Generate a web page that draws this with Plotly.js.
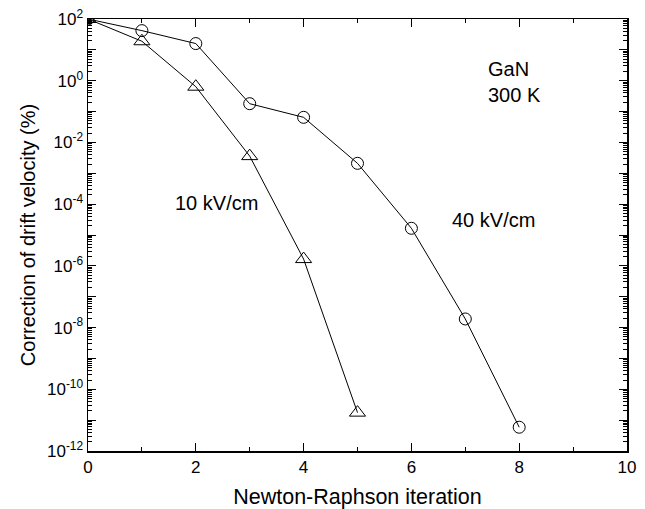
<!DOCTYPE html>
<html><head><meta charset="utf-8">
<script src="https://cdn.plot.ly/plotly-3.0.1.min.js"></script>
<style>body{margin:0;padding:0;background:#fff}#chart{width:645px;height:509px}</style>
</head><body><div id="chart"></div>
<script>
const iterCircle = [0, 1, 2, 3, 4, 5, 6, 7, 8];
const corr40 = [100, 42, 16, 0.18, 0.065, 0.0021, 1.65e-5, 1.9e-8, 5.9e-12];
const iterTri = [0, 1, 2, 3, 4, 5];
const corr10 = [100, 19, 0.64, 0.0036, 1.66e-6, 1.75e-11];
const yTickVals = [1e-12,1e-11,1e-10,1e-9,1e-8,1e-7,1e-6,1e-5,1e-4,1e-3,1e-2,1e-1,1,10,100];
const yTickText = ['10<sup>-12</sup>','','10<sup>-10</sup>','','10<sup>-8</sup>','','10<sup>-6</sup>','','10<sup>-4</sup>','','10<sup>-2</sup>','','10<sup>0</sup>','','10<sup>2</sup>'];

const traces = [
  {x: iterCircle, y: corr40, mode: 'lines+markers', type: 'scatter',
   line: {color: '#000', width: 1},
   marker: {symbol: 'circle-open', size: 12, color: '#000', line: {width: 1, color: '#000'}}, cliponaxis: true},
  {x: iterTri, y: corr10, mode: 'lines+markers', type: 'scatter',
   line: {color: '#000', width: 1},
   marker: {symbol: 'triangle-up-open', size: 14, color: '#000', line: {width: 1, color: '#000'}}, cliponaxis: true}
];
const F = 'Liberation Sans, Arial, sans-serif';
const ann = (x, y, t) => ({x: x, y: y, xref: 'paper', yref: 'paper', text: t, showarrow: false,
  xanchor: 'left', yanchor: 'middle', font: {size: 20, family: F}});
const layout = {
  width: 645, height: 509,
  margin: {l: 88, r: 18, t: 19, b: 58},
  paper_bgcolor: '#fff', plot_bgcolor: '#fff',
  showlegend: false,
  font: {family: F, color: '#000', size: 17},
  xaxis: {range: [0, 10], tickmode: 'array', tickvals: [0,2,4,6,8,10],
    ticks: 'inside', ticklen: 8, tickcolor: '#000', showline: true, linecolor: '#000', linewidth: 1.5,
    mirror: 'ticks', showgrid: false, zeroline: false,
    minor: {dtick: 1, tick0: 0, ticks: 'inside', ticklen: 4, tickcolor: '#000', showgrid: false},
    tickfont: {size: 17, family: F},
    title: {text: 'Newton-Raphson iteration', font: {size: 21.5, family: F}, standoff: 13}},
  yaxis: {type: 'log', range: [-12, 2], tickmode: 'array', tickvals: yTickVals, ticktext: yTickText,
    ticks: 'inside', ticklen: 8, tickcolor: '#000', showline: true, linecolor: '#000', linewidth: 1.5,
    mirror: 'ticks', showgrid: false, zeroline: false,
    minor: {dtick: 'D1', ticks: 'inside', ticklen: 4, tickcolor: '#000', showgrid: false},
    tickfont: {size: 17, family: F},
    title: {text: 'Correction of drift velocity (%)', font: {size: 20, family: F}, standoff: 6}},
  annotations: [
    ann(0.738, 0.884, 'GaN'),
    ann(0.738, 0.824, '300 K'),
    ann(0.158, 0.574, '10 kV/cm'),
    ann(0.672, 0.535, '40 kV/cm')
  ]
};
Plotly.newPlot('chart', traces, layout, {displayModeBar: false, staticPlot: true});
</script></body></html>
